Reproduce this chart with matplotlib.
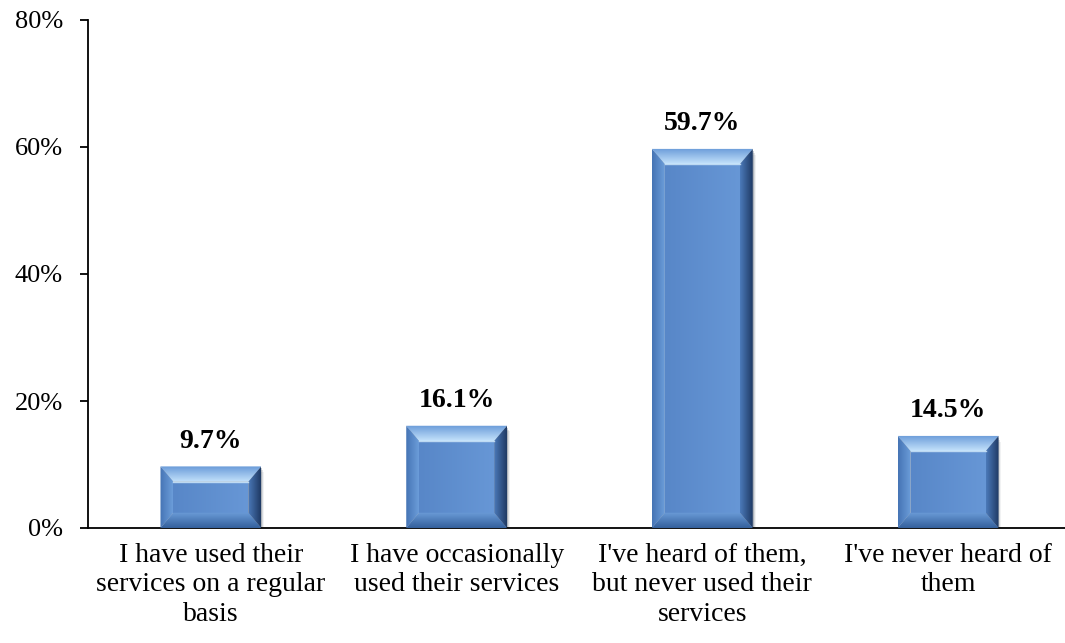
import numpy as np
import matplotlib.pyplot as plt
from matplotlib.colors import to_rgb
from matplotlib.patches import Polygon, Rectangle
from matplotlib.ticker import PercentFormatter

plt.rcParams['font.family'] = ['Liberation Serif', 'DejaVu Serif']

categories = [
    "I have used their\nservices on a regular\nbasis",
    "I have occasionally\nused their services",
    "I've heard of them,\nbut never used their\nservices",
    "I've never heard of\nthem",
]
values = [9.7, 16.1, 59.7, 14.5]
yticks = [0, 20, 40, 60, 80]

BAR_W = 0.41
BEV_X = 0.052   # bevel width in category units
BEV_Y = 2.4     # bevel height in percent units


def gradient_patch(ax, verts, c_from, c_to, vertical=True, z=3):
    # fill a polygon with a linear gradient via a clipped image
    poly = Polygon(verts, closed=True, facecolor='none', edgecolor='none')
    ax.add_patch(poly)
    xs = [v[0] for v in verts]
    ys = [v[1] for v in verts]
    t = np.linspace(0, 1, 64)
    c0 = np.array(to_rgb(c_from))
    c1 = np.array(to_rgb(c_to))
    cols = c0[None, :] * (1 - t[:, None]) + c1[None, :] * t[:, None]
    img = cols[:, None, :] if vertical else cols[None, :, :]
    im = ax.imshow(img, extent=(min(xs), max(xs), min(ys), max(ys)),
                   origin='lower', aspect='auto', interpolation='bilinear',
                   zorder=z)
    im.set_clip_path(poly)


def bevel_bar(ax, x, h):
    x0, x1 = x - BAR_W / 2, x + BAR_W / 2
    y0, y1 = 0, h
    bx, by = BEV_X, min(BEV_Y, h / 4)
    # soft shadow on the right
    for k, a in enumerate([0.22, 0.12, 0.06]):
        d = 0.004 * (k + 1)
        ax.add_patch(Rectangle((x0 + d, y0), BAR_W, h - 0.3 * (k + 1),
                               facecolor='#1a2a40', alpha=a, lw=0, zorder=2))
    # front face
    gradient_patch(ax, [(x0 + bx, y0 + by), (x1 - bx, y0 + by),
                        (x1 - bx, y1 - by), (x0 + bx, y1 - by)],
                   '#5887c8', '#6797d6', vertical=False)
    # top bevel
    gradient_patch(ax, [(x0, y1), (x1, y1), (x1 - bx, y1 - by), (x0 + bx, y1 - by)],
                   '#c4e2fb', '#6a9bd9')
    # bottom bevel
    gradient_patch(ax, [(x0, y0), (x1, y0), (x1 - bx, y0 + by), (x0 + bx, y0 + by)],
                   '#34609c', '#6b9cd8')
    # left bevel
    gradient_patch(ax, [(x0, y0), (x0 + bx, y0 + by), (x0 + bx, y1 - by), (x0, y1)],
                   '#4574b4', '#6c9dda', vertical=False)
    # right bevel
    gradient_patch(ax, [(x1, y0), (x1 - bx, y0 + by), (x1 - bx, y1 - by), (x1, y1)],
                   '#4b7ab9', '#1f3a64', vertical=False)
    ax.plot([x0 + bx, x1 - bx], [y1 - by, y1 - by], color='#d6edfc', lw=1.0,
            alpha=0.8, zorder=4)


fig = plt.figure(figsize=(10.65, 6.43), dpi=100)
ax = fig.add_axes([88 / 1065, 115 / 643, 983 / 1065, 508 / 643])

xpos = np.arange(len(categories))
for x, v in zip(xpos, values):
    bevel_bar(ax, x, v)
    ax.text(x, v + 2.0, f"{v:.1f}%", ha='center', va='bottom',
            fontsize=20, fontweight='bold', zorder=5)

ax.set_xlim(-0.5, len(categories) - 0.5)
ax.set_ylim(0, 80)
ax.set_yticks(yticks)
ax.yaxis.set_major_formatter(PercentFormatter(decimals=0))
ax.set_xticks(xpos)
ax.set_xticklabels(categories, fontsize=20, linespacing=1.22)
ax.tick_params(axis='x', length=0, pad=11)
ax.tick_params(axis='y', direction='out', length=6, width=1.3, labelsize=19, pad=12)

for s in ['top', 'right']:
    ax.spines[s].set_visible(False)
ax.spines['left'].set_linewidth(1.3)
ax.spines['bottom'].set_linewidth(1.3)
ax.patch.set_alpha(0)

fig.savefig("out.png", dpi=100)
